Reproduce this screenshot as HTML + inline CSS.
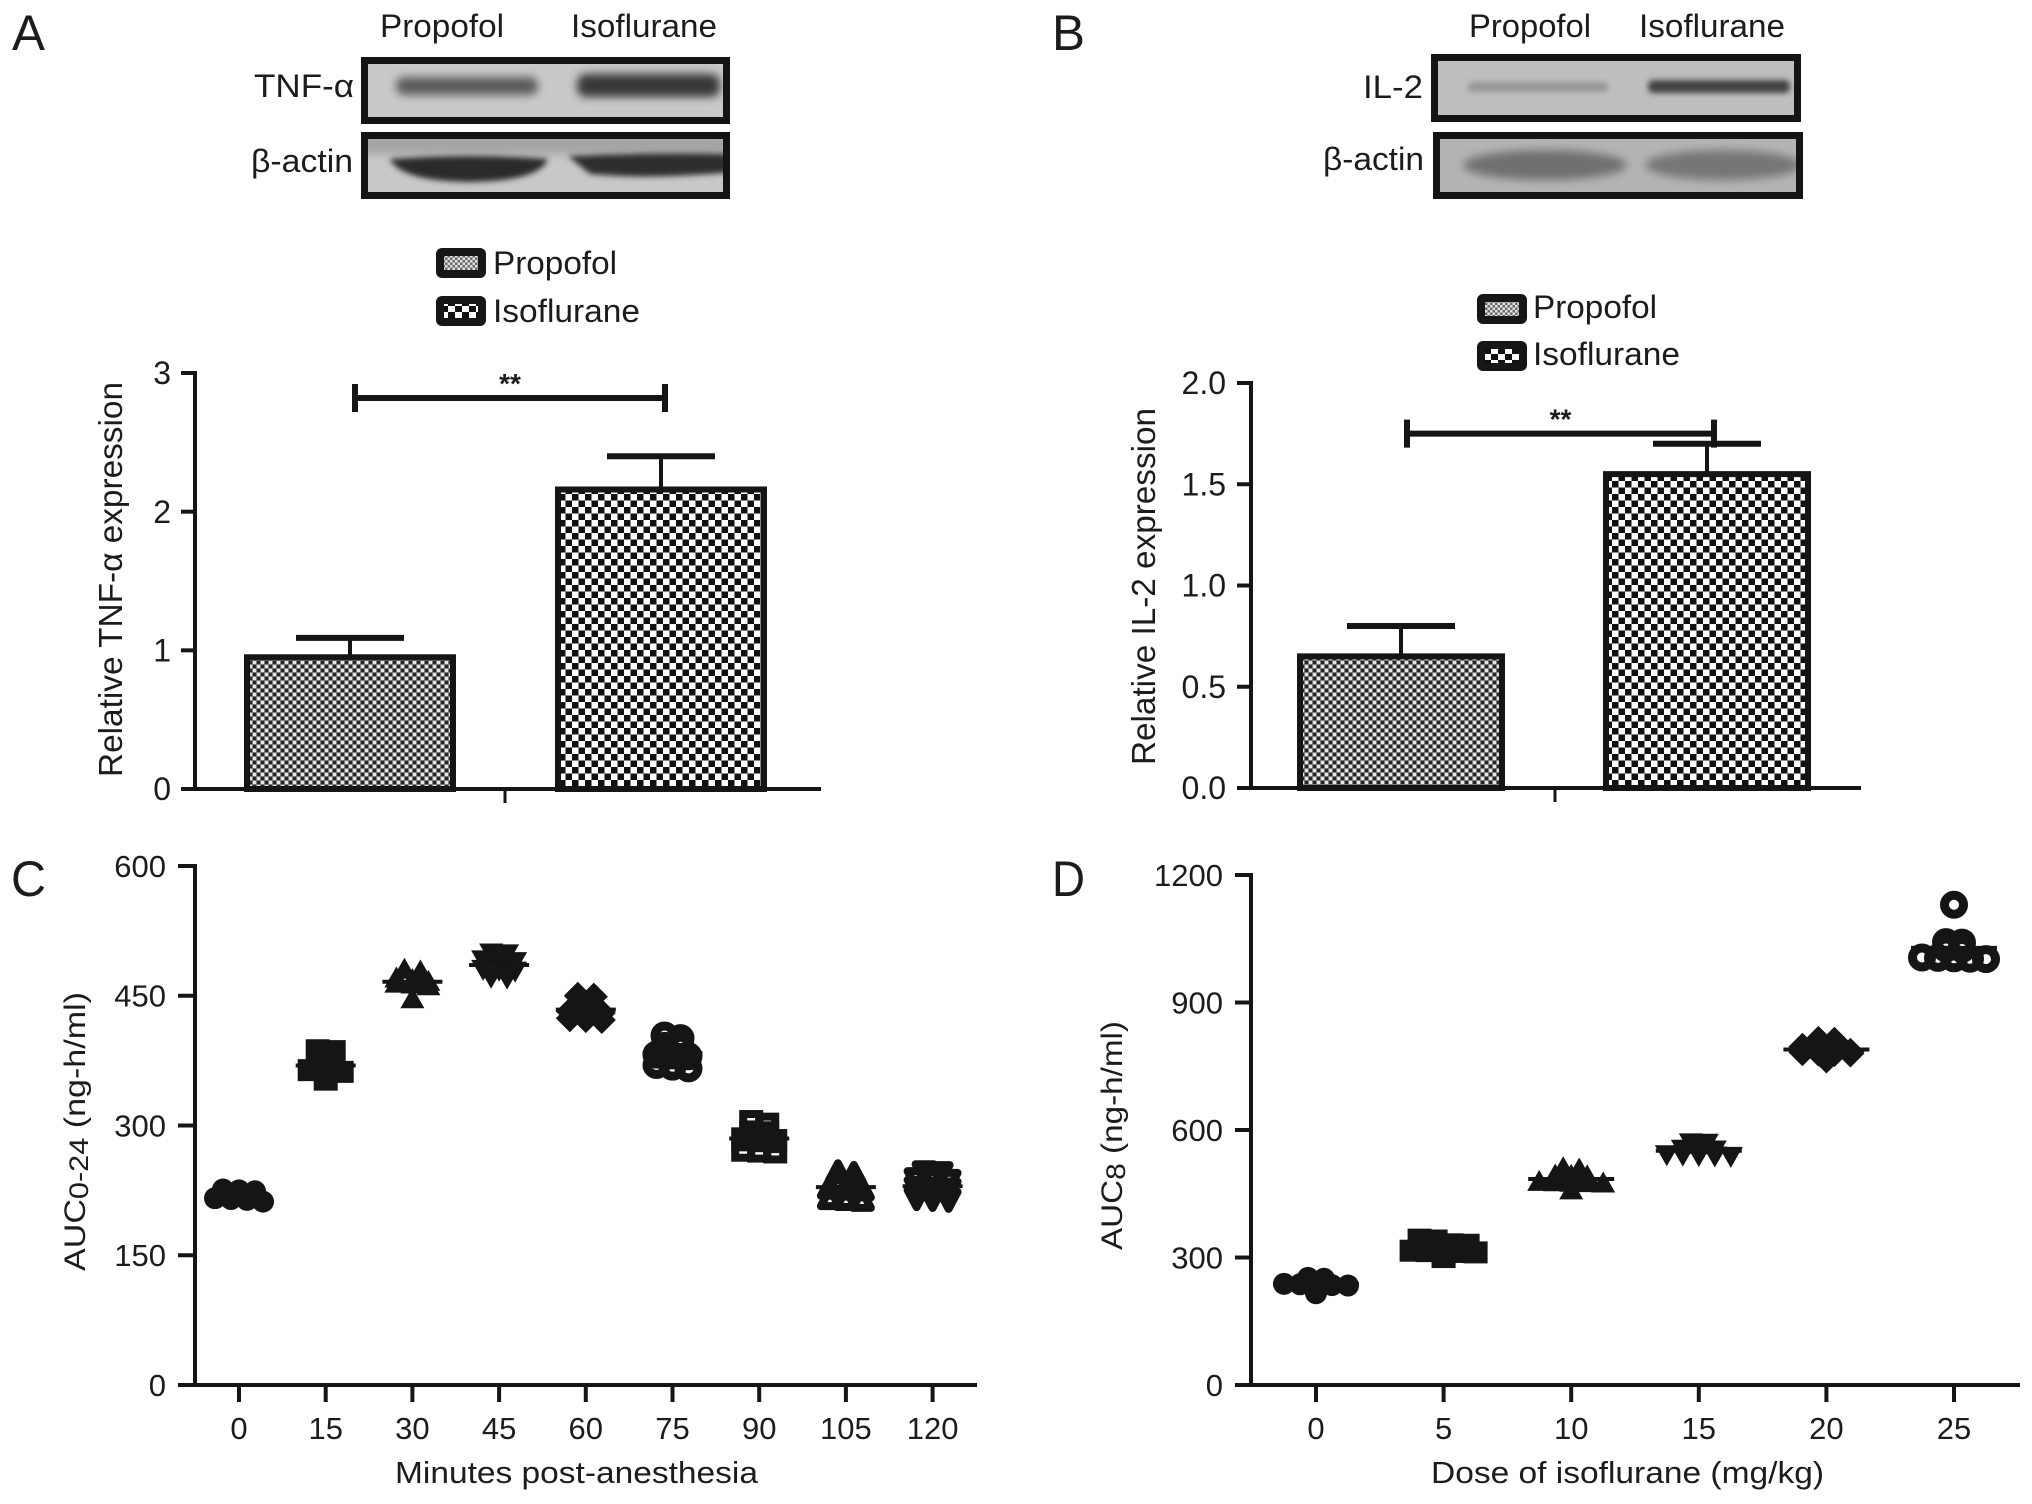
<!DOCTYPE html>
<html lang="en">
<head>
<meta charset="utf-8">
<title>TNF-α and IL-2 expression and AUC figure</title>
<style>
  html,body{margin:0;padding:0;background:#fff;}
  body{width:2032px;height:1504px;overflow:hidden;}
  svg{display:block;}
  text{font-family:"Liberation Sans",sans-serif;fill:#1c1c1c;}
</style>
</head>
<body>
<svg id="figure" xmlns="http://www.w3.org/2000/svg" width="2032" height="1504" viewBox="0 0 2032 1504">
  <defs>
    <pattern id="fine-check" patternUnits="userSpaceOnUse" width="8" height="8">
      <rect width="8" height="8" fill="#7c7c7c"/>
      <rect x="1" y="1" width="3" height="3" fill="#e4e4e4"/>
      <rect x="5" y="5" width="3" height="3" fill="#e4e4e4"/>
      <rect x="5" y="1" width="3" height="3" fill="#262626"/>
      <rect x="1" y="5" width="3" height="3" fill="#262626"/>
    </pattern>
    <pattern id="coarse-check" patternUnits="userSpaceOnUse" width="13" height="13">
      <rect width="13" height="13" fill="#fff"/>
      <rect x="0" y="0" width="6.500" height="6.500" fill="#111"/>
      <rect x="6.500" y="6.500" width="6.500" height="6.500" fill="#111"/>
    </pattern>
    <pattern id="swatch-fine" patternUnits="userSpaceOnUse" width="5" height="5">
      <rect width="5" height="5" fill="#6a6a6a"/>
      <rect x="0" y="0" width="2.500" height="2.500" fill="#e2e2e2"/>
      <rect x="2.500" y="2.500" width="2.500" height="2.500" fill="#e2e2e2"/>
    </pattern>
    <pattern id="swatch-coarse" patternUnits="userSpaceOnUse" width="14" height="12">
      <rect width="14" height="12" fill="#fff"/>
      <rect x="0" y="0" width="7" height="6" fill="#111"/>
      <rect x="7" y="6" width="7" height="6" fill="#111"/>
    </pattern>
    <filter id="blot-blur" x="-20%" y="-80%" width="140%" height="260%"><feGaussianBlur stdDeviation="4.500"/></filter>
    <filter id="blot-blur-soft" x="-20%" y="-80%" width="140%" height="260%"><feGaussianBlur stdDeviation="3"/></filter>
    <clipPath id="clip-tnf"><rect x="361" y="57" width="369" height="67"/></clipPath>
    <clipPath id="clip-actin-a"><rect x="361" y="132" width="369" height="67"/></clipPath>
    <clipPath id="clip-il2"><rect x="1431" y="54" width="370" height="68"/></clipPath>
    <clipPath id="clip-actin-b"><rect x="1433" y="132" width="370" height="67"/></clipPath>
  </defs>

  <text x="12" y="50" font-size="50" textLength="33" lengthAdjust="spacingAndGlyphs">A</text>
  <text x="1052" y="50" font-size="50" textLength="33" lengthAdjust="spacingAndGlyphs">B</text>
  <text x="11" y="896" font-size="50" textLength="35" lengthAdjust="spacingAndGlyphs">C</text>
  <text x="1052" y="896" font-size="50" textLength="33" lengthAdjust="spacingAndGlyphs">D</text>

  <!-- Panel A blots -->
  <g font-size="32">
    <text x="380" y="37" textLength="124" lengthAdjust="spacingAndGlyphs">Propofol</text>
    <text x="571" y="37" textLength="146" lengthAdjust="spacingAndGlyphs">Isoflurane</text>
    <text x="254" y="97" textLength="100" lengthAdjust="spacingAndGlyphs">TNF-α</text>
    <text x="251" y="172" textLength="102" lengthAdjust="spacingAndGlyphs">β-actin</text>
  </g>
  <g>
    <rect x="361" y="57" width="369" height="67" fill="#c9c9c9"/>
    <g clip-path="url(#clip-tnf)">
      <rect x="396" y="77" width="142" height="18" rx="8" fill="#5c5c5c" filter="url(#blot-blur)"/>
      <rect x="577" y="74" width="143" height="23" rx="9" fill="#383838" filter="url(#blot-blur)"/>
    </g>
    <rect x="364.500" y="60.500" width="362" height="60" fill="none" stroke="#141414" stroke-width="7"/>
  </g>
  <g>
    <rect x="361" y="132" width="369" height="67" fill="#c8c8c8"/>
    <g clip-path="url(#clip-actin-a)">
      <rect x="361" y="134" width="369" height="20" fill="#a4a4a4" filter="url(#blot-blur)"/>
      <path d="M390 159 Q470 153 548 159 Q540 181 470 182 Q400 181 390 159 Z" fill="#2c2c2c" filter="url(#blot-blur-soft)"/>
      <path d="M568 156 Q650 152 734 154 V172 Q650 180 590 174 Z" fill="#2e2e2e" filter="url(#blot-blur-soft)"/>
    </g>
    <rect x="364.500" y="135.500" width="362" height="60" fill="none" stroke="#141414" stroke-width="7"/>
  </g>

  <!-- Panel B blots -->
  <g font-size="32">
    <text x="1469" y="37" textLength="122" lengthAdjust="spacingAndGlyphs">Propofol</text>
    <text x="1639" y="37" textLength="146" lengthAdjust="spacingAndGlyphs">Isoflurane</text>
    <text x="1363" y="98" textLength="60" lengthAdjust="spacingAndGlyphs">IL-2</text>
    <text x="1323" y="170" textLength="101" lengthAdjust="spacingAndGlyphs">β-actin</text>
  </g>
  <g>
    <rect x="1431" y="54" width="370" height="68" fill="#bebebe"/>
    <g clip-path="url(#clip-il2)">
      <rect x="1468" y="82" width="140" height="10" rx="4" fill="#969696" filter="url(#blot-blur-soft)"/>
      <rect x="1648" y="80" width="142" height="13" rx="5" fill="#424242" filter="url(#blot-blur-soft)"/>
    </g>
    <rect x="1434.500" y="57.500" width="363" height="61" fill="none" stroke="#141414" stroke-width="7"/>
  </g>
  <g>
    <rect x="1433" y="132" width="370" height="67" fill="#b4b4b4"/>
    <g clip-path="url(#clip-actin-b)">
      <ellipse cx="1545" cy="165" rx="82" ry="15" fill="#707070" filter="url(#blot-blur)"/>
      <ellipse cx="1723" cy="165" rx="78" ry="15" fill="#767676" filter="url(#blot-blur)"/>
    </g>
    <rect x="1436.500" y="135.500" width="363" height="60" fill="none" stroke="#141414" stroke-width="7"/>
  </g>

  <!-- Legends -->
  <g>
    <g>
      <rect x="440" y="252" width="42" height="22" fill="url(#swatch-fine)" stroke="#161616" stroke-width="8" rx="2"/>
      <text x="493" y="274" font-size="32" textLength="124" lengthAdjust="spacingAndGlyphs">Propofol</text>
    </g>
    <g>
      <rect x="440" y="300" width="42" height="22" fill="url(#swatch-coarse)" stroke="#161616" stroke-width="8" rx="2"/>
      <text x="493" y="322" font-size="32" textLength="147" lengthAdjust="spacingAndGlyphs">Isoflurane</text>
    </g>
  </g>
  <g>
    <g>
      <rect x="1481" y="298" width="42" height="22" fill="url(#swatch-fine)" stroke="#161616" stroke-width="8" rx="2"/>
      <text x="1533" y="318" font-size="32" textLength="124" lengthAdjust="spacingAndGlyphs">Propofol</text>
    </g>
    <g>
      <rect x="1481" y="345" width="42" height="22" fill="url(#swatch-coarse)" stroke="#161616" stroke-width="8" rx="2"/>
      <text x="1533" y="365" font-size="32" textLength="147" lengthAdjust="spacingAndGlyphs">Isoflurane</text>
    </g>
  </g>

  <!-- Axis titles -->
  <text transform="translate(122 777) rotate(-90)" font-size="33" textLength="395" lengthAdjust="spacingAndGlyphs">Relative TNF-α expression</text>
  <text transform="translate(1155 765) rotate(-90)" font-size="33" textLength="357" lengthAdjust="spacingAndGlyphs">Relative IL-2 expression</text>
  <text transform="translate(85 1271) rotate(-90)" font-size="30" textLength="279" lengthAdjust="spacingAndGlyphs">AUC<tspan font-size="27" dy="3">0-24</tspan><tspan dy="-3"> (ng-h/ml)</tspan></text>
  <text transform="translate(1122 1250) rotate(-90)" font-size="30" textLength="229" lengthAdjust="spacingAndGlyphs">AUC<tspan font-size="27" dy="3">8</tspan><tspan dy="-3"> (ng-h/ml)</tspan></text>
  <text x="395" y="1483" font-size="31" textLength="363" lengthAdjust="spacingAndGlyphs">Minutes post-anesthesia</text>
  <text x="1431" y="1483" font-size="31" textLength="393" lengthAdjust="spacingAndGlyphs">Dose of isoflurane (mg/kg)</text>
</svg>

<script>
// ---- Bar chart data (panels A and B) ----
const barCategories = ['Propofol', 'Isoflurane'];
const tnfMeans = [0.95, 2.16];
const tnfErrorTops = [1.09, 2.40];
const tnfTickValues = [0, 1, 2, 3];
const tnfTickLabels = ['0', '1', '2', '3'];
const il2Means = [0.65, 1.55];
const il2ErrorTops = [0.80, 1.70];
const il2TickValues = [0, 0.5, 1, 1.5, 2];
const il2TickLabels = ['0.0', '0.5', '1.0', '1.5', '2.0'];

// ---- Scatter data, panel C (AUC by minutes post-anesthesia) ----
const minuteCategories = ['0', '15', '30', '45', '60', '75', '90', '105', '120'];
const minuteShapes = ['circle', 'square', 'triangle', 'inverted', 'diamond', 'ring', 'open-square', 'open-triangle', 'open-inverted'];
const aucMin0 = [226, 225, 224, 216, 215, 214, 212];
const aucMin15 = [387, 386, 364, 364, 362, 353];
const aucMin30 = [480, 478, 470, 468, 466, 464, 463, 461, 446];
const aucMin45 = [500, 499, 492, 491, 490, 481, 480, 479, 472, 471];
const aucMin60 = [450, 449, 440, 439, 432, 431, 430, 424, 423, 422];
const aucMin75 = [404, 401, 392, 391, 382, 381, 380, 370, 368, 366];
const aucMin90 = [304, 301, 292, 291, 284, 283, 282, 272, 271, 270];
const aucMin105 = [246, 244, 236, 235, 228, 227, 226, 216, 215, 214];
const aucMin120 = [246, 245, 238, 237, 236, 228, 227, 226, 216, 215, 214];
const aucTimeTickValues = [0, 150, 300, 450, 600];
const aucTimeTickLabels = ['0', '150', '300', '450', '600'];

// ---- Scatter data, panel D (AUC by dose) ----
const doseCategories = ['0', '5', '10', '15', '20', '25'];
const doseShapes = ['circle', 'square', 'triangle', 'inverted', 'diamond', 'ring'];
const aucDose0 = [252, 250, 238, 237, 236, 235, 234, 216];
const aucDose5 = [342, 340, 331, 330, 329, 316, 315, 314, 313, 312, 301];
const aucDose10 = [510, 507, 493, 492, 491, 478, 477, 476, 475, 474, 458];
const aucDose15 = [571, 570, 556, 555, 554, 543, 542, 541, 540, 539];
const aucDose20 = [812, 810, 796, 795, 794, 784, 783, 782, 781, 780, 766];
const aucDose25 = [1130, 1042, 1041, 1027, 1026, 1006, 1005, 1004, 1003, 1002];
const aucDoseTickValues = [0, 300, 600, 900, 1200];
const aucDoseTickLabels = ['0', '300', '600', '900', '1200'];

const aucTimeGroups = [aucMin0, aucMin15, aucMin30, aucMin45, aucMin60, aucMin75, aucMin90, aucMin105, aucMin120];
const aucDoseGroups = [aucDose0, aucDose5, aucDose10, aucDose15, aucDose20, aucDose25];

const NS = 'http://www.w3.org/2000/svg';
const figure = document.getElementById('figure');
const INK = '#151515';

function make(tag, attrs, parent) {
  const node = document.createElementNS(NS, tag);
  for (const key in attrs) node.setAttribute(key, attrs[key]);
  parent.appendChild(node);
  return node;
}

function linearScale(domainMax, pixelAtZero, pixelAtMax) {
  return v => pixelAtZero + (v / domainMax) * (pixelAtMax - pixelAtZero);
}

function drawYAxis(parent, prefix, scale, tickValues, tickLabels, axisX, tickLeft, labelRight, fontSize) {
  const line = make('line', {x1: axisX, x2: axisX, y1: scale(tickValues[tickValues.length - 1]) - 2, y2: scale(0) + 2, stroke: INK, 'stroke-width': 4}, parent);
  
  
  tickValues.forEach((v, i) => {
    const tick = make('line', {x1: tickLeft, x2: axisX, y1: scale(v), y2: scale(v), stroke: INK, 'stroke-width': 4}, parent);
    
    
    const label = make('text', {x: labelRight, y: scale(v) + fontSize * 0.35, 'text-anchor': 'end', 'font-size': fontSize}, parent);
    
    
    label.textContent = tickLabels[i];
  });
}

function drawBarPanel(prefix, categories, means, errorTops, tickValues, tickLabels, layout) {
  const group = make('g', {}, figure);
  
  
  const y = linearScale(tickValues[tickValues.length - 1], layout.y0, layout.yMax);
  const fills = ['url(#fine-check)', 'url(#coarse-check)'];
  const centers = categories.map((c, i) => layout.firstCenter + i * layout.step);

  categories.forEach((cat, i) => {
    const cx = centers[i];
    const stem = make('line', {x1: cx, x2: cx, y1: y(errorTops[i]), y2: y(means[i]), stroke: INK, 'stroke-width': 4}, group);
    
    
    const cap = make('line', {x1: cx - 54, x2: cx + 54, y1: y(errorTops[i]), y2: y(errorTops[i]), stroke: INK, 'stroke-width': 6}, group);
    
    
    const bar = make('rect', {x: cx - layout.halfWidth, y: y(means[i]), width: layout.halfWidth * 2, height: y(0) - y(means[i]), fill: fills[i], stroke: INK, 'stroke-width': 6}, group);
    
    
  });

  drawYAxis(group, prefix, y, tickValues, tickLabels, layout.axisX, layout.tickLeft, layout.labelRight, 32);

  const xAxis = make('line', {x1: layout.tickLeft, x2: layout.xEnd, y1: y(0), y2: y(0), stroke: INK, 'stroke-width': 4}, group);
  
  
  const xTick = make('line', {x1: layout.xTick, x2: layout.xTick, y1: y(0), y2: y(0) + 14, stroke: INK, 'stroke-width': 3}, group);
  
  

  const by = y(layout.bracketValue);
  const bracket = make('path', {d: 'M' + layout.bracketLeft + ' ' + (by - 14) + 'V' + (by + 14) + 'M' + layout.bracketLeft + ' ' + by + 'H' + layout.bracketRight + 'M' + layout.bracketRight + ' ' + (by - 14) + 'V' + (by + 14), fill: 'none', stroke: INK, 'stroke-width': 6}, group);
  
  
  const stars = make('text', {x: (layout.bracketLeft + layout.bracketRight) / 2, y: by - 5, 'text-anchor': 'middle', 'font-size': 28, 'font-weight': 'bold'}, group);
  
  
  stars.textContent = '**';
}

function drawMarker(parent, shape, x, y) {
  let node;
  if (shape === 'circle') {
    node = make('circle', {cx: x, cy: y, r: 11, fill: INK}, parent);
  } else if (shape === 'ring') {
    node = make('circle', {cx: x, cy: y, r: 9.5, fill: 'none', stroke: INK, 'stroke-width': 9}, parent);
  } else if (shape === 'square') {
    node = make('rect', {x: x - 12, y: y - 11, width: 24, height: 22, fill: INK}, parent);
  } else if (shape === 'open-square') {
    node = make('rect', {x: x - 8, y: y - 8, width: 16, height: 16, fill: 'none', stroke: INK, 'stroke-width': 8}, parent);
  } else if (shape === 'triangle') {
    node = make('polygon', {points: [x, y - 12, x + 12, y + 9, x - 12, y + 9].join(' '), fill: INK}, parent);
  } else if (shape === 'inverted') {
    node = make('polygon', {points: [x, y + 12, x + 12, y - 9, x - 12, y - 9].join(' '), fill: INK}, parent);
  } else if (shape === 'open-triangle') {
    node = make('polygon', {points: [x, y - 9, x + 9, y + 8, x - 9, y + 8].join(' '), fill: 'none', stroke: INK, 'stroke-width': 8, 'stroke-linejoin': 'round'}, parent);
  } else if (shape === 'open-inverted') {
    node = make('polygon', {points: [x, y + 9, x + 9, y - 8, x - 9, y - 8].join(' '), fill: 'none', stroke: INK, 'stroke-width': 8, 'stroke-linejoin': 'round'}, parent);
  } else {
    node = make('polygon', {points: [x, y - 14, x + 14, y, x, y + 14, x - 14, y].join(' '), fill: INK}, parent);
  }
  return node;
}

// Spreads tied values sideways, the way a column scatter plot bins its points.
function swarmOffsets(values, gap, spacing) {
  const sorted = values.slice().sort((a, b) => b - a);
  const rows = [];
  sorted.forEach(v => {
    const row = rows[rows.length - 1];
    if (row && row[0] - v <= gap) row.push(v); else rows.push([v]);
  });
  const placed = [];
  rows.forEach(row => {
    row.forEach((v, i) => {
      placed.push({value: v, offset: (i - (row.length - 1) / 2) * spacing});
    });
  });
  return placed;
}

function drawScatterPanel(prefix, categories, shapes, groups, tickValues, tickLabels, layout) {
  const panel = make('g', {}, figure);
  
  
  const y = linearScale(tickValues[tickValues.length - 1], layout.y0, layout.yMax);
  const x = i => layout.firstX + i * layout.step;

  drawYAxis(panel, prefix, y, tickValues, tickLabels, layout.axisX, layout.tickLeft, layout.labelRight, 31);

  const xAxis = make('line', {x1: layout.tickLeft, x2: layout.xEnd, y1: y(0), y2: y(0), stroke: INK, 'stroke-width': 4}, panel);
  
  

  categories.forEach((cat, i) => {
    const tick = make('line', {x1: x(i), x2: x(i), y1: y(0), y2: y(0) + 17, stroke: INK, 'stroke-width': 4}, panel);
    
    
    const label = make('text', {x: x(i), y: layout.tickBaseline, 'text-anchor': 'middle', 'font-size': 31}, panel);
    
    
    label.textContent = cat;

    const cluster = make('g', {}, panel);
    
    
    swarmOffsets(groups[i], layout.gap, layout.spacing).forEach(p => {
      const mark = drawMarker(cluster, shapes[i], x(i) + p.offset, y(p.value));
      
      
    });
    const mean = groups[i].reduce((a, b) => a + b, 0) / groups[i].length;
    const meanLine = make('line', {x1: x(i) - layout.meanHalf, x2: x(i) + layout.meanHalf, y1: y(mean), y2: y(mean), stroke: INK, 'stroke-width': 4}, panel);
    
    
  });
}

drawBarPanel('tnf', barCategories, tnfMeans, tnfErrorTops, tnfTickValues, tnfTickLabels, {
  y0: 789, yMax: 373, firstCenter: 350, step: 311, halfWidth: 103, axisX: 195, tickLeft: 181,
  labelRight: 171, xEnd: 821, xTick: 505, bracketValue: 2.82, bracketLeft: 355, bracketRight: 665
});
drawBarPanel('il2', barCategories, il2Means, il2ErrorTops, il2TickValues, il2TickLabels, {
  y0: 788, yMax: 383, firstCenter: 1401, step: 306, halfWidth: 101, axisX: 1251, tickLeft: 1237,
  labelRight: 1226, xEnd: 1861, xTick: 1555, bracketValue: 1.75, bracketLeft: 1407, bracketRight: 1714
});
drawScatterPanel('auc-time', minuteCategories, minuteShapes, aucTimeGroups, aucTimeTickValues, aucTimeTickLabels, {
  y0: 1385, yMax: 866, firstX: 239, step: 86.7, axisX: 195, tickLeft: 178, labelRight: 166,
  xEnd: 977, tickBaseline: 1439, gap: 5, spacing: 16, meanHalf: 30
});
drawScatterPanel('auc-dose', doseCategories, doseShapes, aucDoseGroups, aucDoseTickValues, aucDoseTickLabels, {
  y0: 1385, yMax: 875, firstX: 1316, step: 127.6, axisX: 1251, tickLeft: 1235, labelRight: 1223,
  xEnd: 2020, tickBaseline: 1439, gap: 12, spacing: 16, meanHalf: 43
});
</script>
</body>
</html>
